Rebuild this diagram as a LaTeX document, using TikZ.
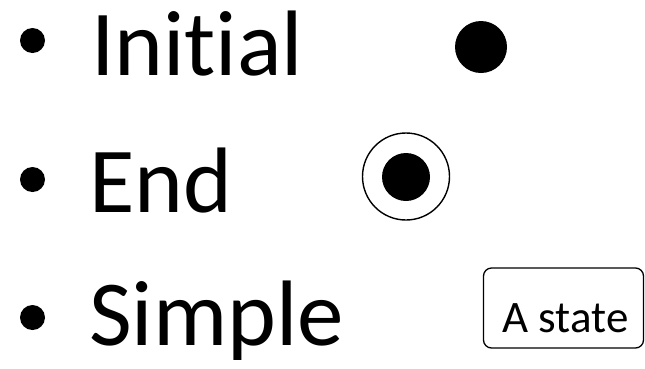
\documentclass[tikz,border=0pt]{standalone}
\usepackage{fontspec}
\setmainfont[Ligatures=NoCommon]{Carlito}
\begin{document}
\begin{tikzpicture}[x=1pt,y=-1pt,
  bigtext/.style={anchor=base west,inner sep=0pt,font=\fontsize{93}{100}\selectfont},
  bulletdot/.style={circle,fill=black,inner sep=0pt,minimum size=25pt},
  solid dot/.style={circle,fill=black,inner sep=0pt},
  statebox/.style={draw,line width=1.3pt,rounded corners=8pt,inner sep=0pt,minimum width=160pt,minimum height=80pt}]
\useasboundingbox (0,0) rectangle (645,368);
% bullets
\node[bulletdot] (b1) at (32.5,40.5) {};
\node[bulletdot] (b2) at (32.5,179.5) {};
\node[bulletdot] (b3) at (32.5,317.5) {};
% labels
\node[bigtext] (t1) at (91,75) {Init\kern0pt ial};
\node[bigtext] (t2) at (89,212) {End};
\node[bigtext] (t3) at (89,345) {Simple};
% initial state
\node[solid dot,minimum size=52pt] (init) at (481,47) {};
% end state
\node[circle,draw,line width=1.4pt,minimum size=87pt,inner sep=0pt] (endo) at (406,176.5) {};
\node[solid dot,minimum size=48pt] (endi) at (406,177) {};
% simple state
\node[statebox] (st) at (563.5,308) {};
\node[anchor=base,inner sep=0pt,font=\fontsize{45}{50}\selectfont] (stl) at (565.5,332) {A state};
\end{tikzpicture}
\end{document}
